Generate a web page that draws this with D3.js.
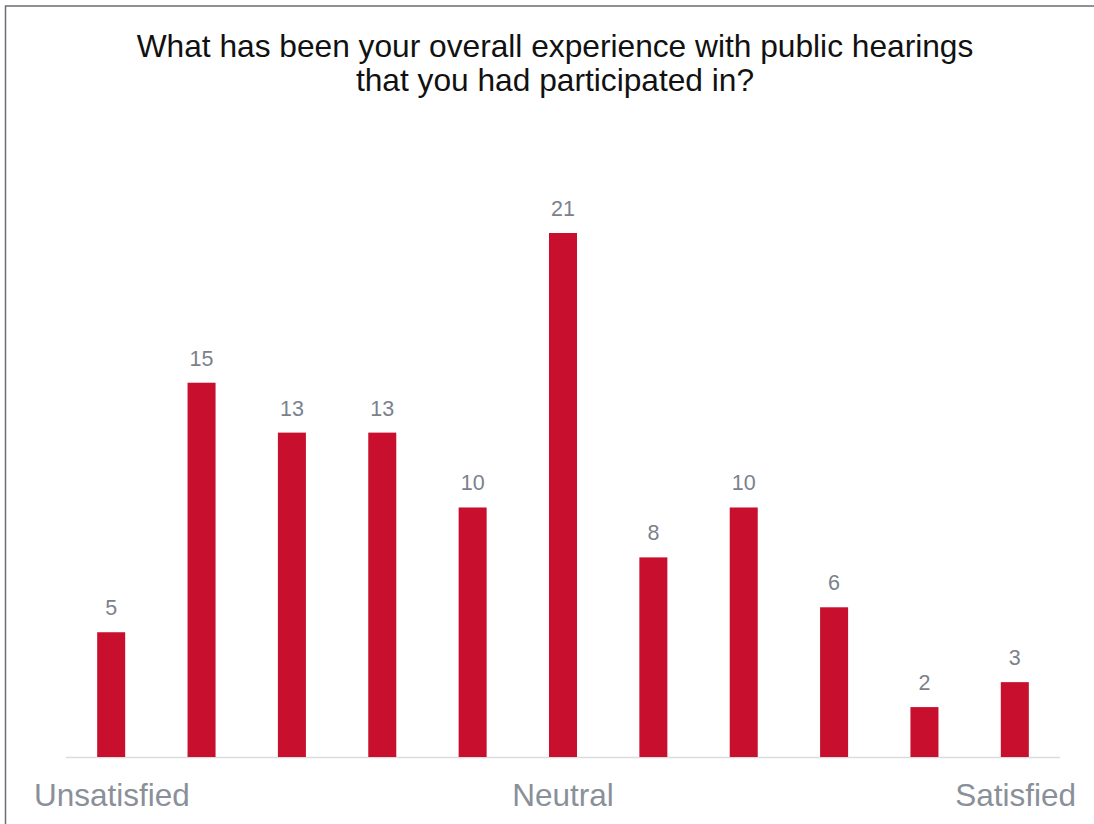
<!DOCTYPE html>
<html><head><meta charset="utf-8">
<script src="https://cdn.jsdelivr.net/npm/d3@7"></script>
<style>body{margin:0;background:#fff}svg{display:block}</style>
</head><body>
<svg id="c" width="1094" height="824"></svg>
<script>
const categories = ["1","2","3","4","5","6","7","8","9","10","11"];
const values = [5,15,13,13,10,21,8,10,6,2,3];
const titleLines = ["What has been your overall experience with public hearings","that you had participated in?"];
const scaleLabels = ["Unsatisfied","Neutral","Satisfied"];

const svg = d3.select("#c");
const font = "'Liberation Sans', Arial, sans-serif";
svg.append("rect").attr("x",5.5).attr("y",6).attr("width",1100).attr("height",830)
  .attr("fill","none").attr("stroke","#6b6e73").attr("stroke-width",1.5);

const x = d3.scaleBand().domain(categories).range([66,1060]).paddingInner(0.69).paddingOuter(0.345);
const y = d3.scaleLinear().domain([0,21]).range([757,233]);

svg.append("g").selectAll("text").data(titleLines).join("text")
  .attr("x",555).attr("y",(d,i)=>57+i*34).attr("text-anchor","middle")
  .attr("font-family",font).attr("font-size",31.7).attr("fill","#111").text(d=>d);

svg.append("line").attr("x1",66).attr("x2",1060).attr("y1",757.5).attr("y2",757.5)
  .attr("stroke","#dcdcdc").attr("stroke-width",1.5);

svg.append("g").selectAll("rect").data(values).join("rect")
  .attr("x",(d,i)=>x(categories[i])).attr("width",x.bandwidth())
  .attr("y",d=>y(d)).attr("height",d=>y(0)-y(d)).attr("fill","#c8102e");

svg.append("g").selectAll("text").data(values).join("text")
  .attr("x",(d,i)=>x(categories[i])+x.bandwidth()/2).attr("y",d=>y(d)-17)
  .attr("text-anchor","middle").attr("font-family",font).attr("font-size",21.5)
  .attr("fill","#7b818b").text(d=>d);

const lx = [34, x(categories[5])+x.bandwidth()/2, 1076];
const anchors = ["start","middle","end"];
svg.append("g").selectAll("text").data(scaleLabels).join("text")
  .attr("x",(d,i)=>lx[i]).attr("y",806).attr("text-anchor",(d,i)=>anchors[i])
  .attr("font-family",font).attr("font-size",31.5).attr("fill","#8a9099").text(d=>d);
</script>
</body></html>
